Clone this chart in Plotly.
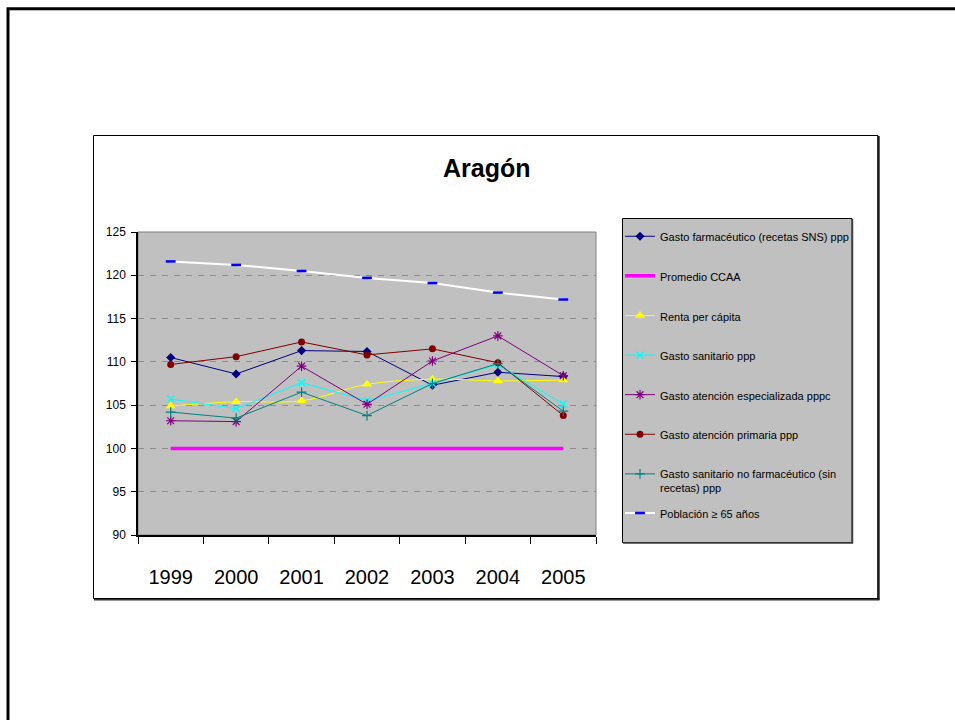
import plotly.graph_objects as go

years = ["1999", "2000", "2001", "2002", "2003", "2004", "2005"]

gasto_farmaceutico = [110.5, 108.6, 111.3, 111.2, 107.3, 108.8, 108.3]
promedio_ccaa = [100, 100, 100, 100, 100, 100, 100]
renta_per_capita = [104.9, 105.4, 105.5, 107.4, 108.0, 107.8, 107.9]
gasto_sanitario = [105.7, 104.6, 107.6, 105.5, 107.5, 109.7, 105.1]
gasto_especializada = [103.2, 103.1, 109.5, 105.1, 110.1, 113.0, 108.4]
gasto_primaria = [109.7, 110.6, 112.3, 110.8, 111.5, 109.9, 103.8]
gasto_no_farmaceutico = [104.2, 103.5, 106.5, 103.8, 107.5, 109.8, 104.3]
poblacion_65 = [121.6, 121.2, 120.5, 119.7, 119.1, 118.0, 117.2]

y_ticks = [90, 95, 100, 105, 110, 115, 120, 125]

W, H = 955, 720
FONT = "Liberation Sans, Arial, sans-serif"


def px(x):
    return x / W


def py(y):
    return 1 - y / H


fig = go.Figure()


def add(name, y, color, width=1, symbol=None, msize=7, mline=None, shape="linear",
        legend="legend", group=None):
    marker = dict()
    mode = "lines"
    if symbol:
        mode = "lines+markers"
        marker = dict(symbol=symbol, size=msize, color=color)
        if mline is not None:
            marker["line"] = dict(color=mline[0], width=mline[1])
    fig.add_trace(go.Scatter(
        x=years, y=y, name=name, mode=mode,
        line=dict(color=color, width=width, shape=shape),
        marker=marker, legend=legend, legendgroup=group or name,
    ))


add("Gasto farmacéutico (recetas SNS) ppp", gasto_farmaceutico, "#000080",
    symbol="diamond", msize=7)
add("Promedio CCAA", promedio_ccaa, "#FF00FF", width=3.5)
add("Renta per cápita", renta_per_capita, "#FFFF00", symbol="triangle-up", msize=9,
    shape="spline")
add("Gasto sanitario ppp", gasto_sanitario, "#00FFFF", symbol="x-thin", msize=7,
    mline=("#00FFFF", 1.5))
add("Gasto atención especializada pppc", gasto_especializada, "#800080",
    symbol="asterisk", msize=8, mline=("#800080", 1.2))
add("Gasto atención primaria ppp", gasto_primaria, "#800000", symbol="circle", msize=7)
add("Gasto sanitario no farmacéutico (sin<br>recetas) ppp", gasto_no_farmaceutico,
    "#008080", symbol="cross-thin", msize=7, mline=("#008080", 1.2))
add("Población ≥ 65 años", poblacion_65, "#FFFFFF", width=2, symbol="line-ew",
    msize=7, mline=("#0000FF", 2.5), legend="legend2")

plot_x0, plot_x1, plot_y0, plot_y1 = 138, 596, 232, 535

shapes = [
    # outer frame
    dict(type="rect", xref="paper", yref="paper", x0=px(8), x1=px(1100), y0=py(8.7),
         y1=py(900), line=dict(color="black", width=3)),
    # chart box shadow
    dict(type="line", xref="paper", yref="paper", x0=px(878.5), x1=px(878.5),
         y0=py(136), y1=py(600), line=dict(color="#303030", width=2.5)),
    dict(type="line", xref="paper", yref="paper", x0=px(94), x1=px(879.5),
         y0=py(599.2), y1=py(599.2), line=dict(color="#303030", width=2.5)),
    # chart box
    dict(type="rect", xref="paper", yref="paper", x0=px(93.5), x1=px(878), y0=py(135.5),
         y1=py(598.5), line=dict(color="black", width=1)),
    # legend box
    dict(type="rect", xref="paper", yref="paper", x0=px(622.5), x1=px(852), y0=py(218.5),
         y1=py(542.5), line=dict(color="black", width=1), fillcolor="#C0C0C0",
         layer="below"),
    dict(type="line", xref="paper", yref="paper", x0=px(852.5), x1=px(852.5),
         y0=py(219), y1=py(543.5), line=dict(color="#404040", width=1.5)),
    dict(type="line", xref="paper", yref="paper", x0=px(623), x1=px(853),
         y0=py(543), y1=py(543), line=dict(color="#404040", width=1.5)),
    # plot area border (top/right gray)
    dict(type="rect", xref="paper", yref="paper", x0=px(plot_x0), x1=px(plot_x1),
         y0=py(plot_y1), y1=py(plot_y0), line=dict(color="#808080", width=1),
         layer="below"),
]

fig.update_layout(
    width=W, height=H,
    margin=dict(l=0, r=0, t=0, b=0, autoexpand=False),
    paper_bgcolor="white",
    plot_bgcolor="#C0C0C0",
    font=dict(family=FONT, color="black"),
    showlegend=True,
    shapes=shapes,
    annotations=[dict(text="<b>Aragón</b>", xref="paper", yref="paper", x=px(487),
                      y=py(168), xanchor="center", yanchor="middle", showarrow=False,
                      font=dict(size=25, family=FONT, color="black"))],
    xaxis=dict(
        domain=[px(plot_x0), px(plot_x1)], type="category", range=[-0.5, 6.5],
        tickson="boundaries", ticks="outside", ticklen=7, tickcolor="black",
        tickwidth=1, showline=True, linecolor="black", linewidth=1.5,
        showgrid=False, tickfont=dict(size=20, family=FONT, color="black"),
        ticklabelstandoff=23, zeroline=False, automargin=False,
    ),
    yaxis=dict(
        domain=[py(plot_y1), py(plot_y0)], range=[90, 125], tickvals=y_ticks,
        ticks="outside", ticklen=5, tickcolor="black", showline=True,
        linecolor="black", linewidth=1.5, showgrid=True, gridcolor="#8C8C8C",
        griddash="6px,6px", gridwidth=1, zeroline=False, automargin=False,
        tickfont=dict(size=12, family=FONT, color="black"), ticklabelstandoff=3,
    ),
    legend=dict(
        x=px(620), y=py(222.6), xanchor="left", yanchor="top",
        bgcolor="rgba(0,0,0,0)", borderwidth=0, traceorder="grouped",
        tracegroupgap=20.6, valign="top",
        font=dict(size=11, family=FONT, color="black"),
    ),
    legend2=dict(
        x=px(620), y=py(499.3), xanchor="left", yanchor="top",
        bgcolor="rgba(0,0,0,0)", borderwidth=0, valign="top",
        font=dict(size=11, family=FONT, color="black"),
    ),
)

fig.write_html("out.html", config={"displayModeBar": False},
               post_script="document.body.style.margin='0';")
